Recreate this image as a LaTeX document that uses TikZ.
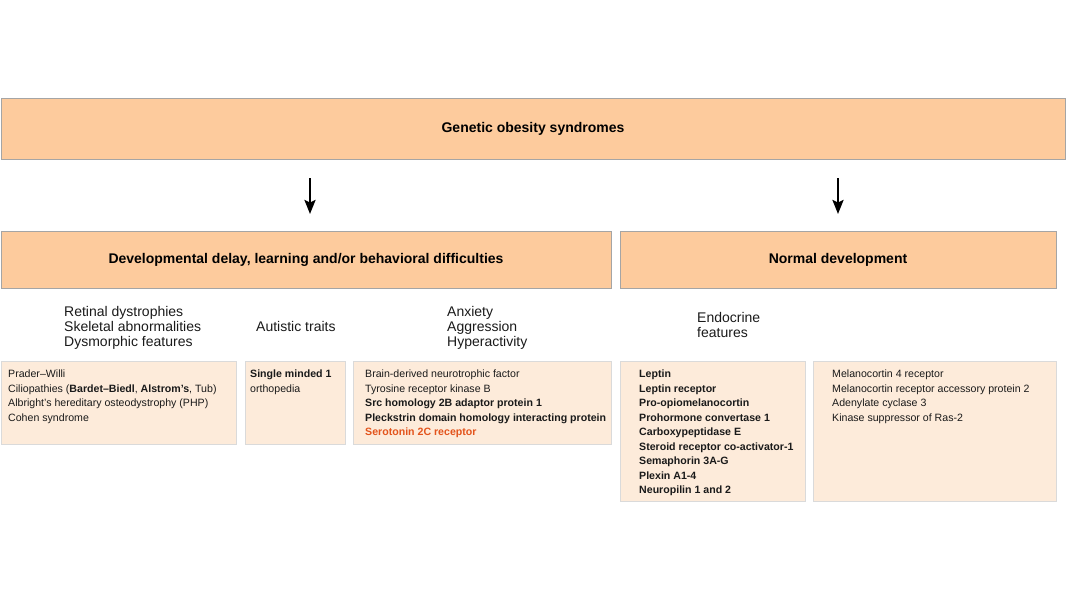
\documentclass[tikz,border=0pt]{standalone}
\usepackage{fontspec}
\setmainfont{Liberation Sans}
\usetikzlibrary{arrows.meta}
\definecolor{peach}{HTML}{FDCB9D}
\definecolor{lightpeach}{HTML}{FDEBDA}
\definecolor{boxline}{HTML}{A5A5A5}
\definecolor{lightline}{HTML}{DADADA}
\definecolor{redorange}{HTML}{E3541C}
\definecolor{txt}{HTML}{1A1A1A}
\tikzset{
	headbox/.style={draw=boxline, fill=peach, line width=0.9pt, inner sep=0pt, text=black, font=\fontsize{14}{16}\selectfont\bfseries},
	listbox/.style={draw=lightline, fill=lightpeach, line width=1pt, anchor=north west, inner sep=0pt},
	listtxt/.style={anchor=base west, align=left, inner sep=0pt, text=txt, font=\fontsize{10.6}{14.5}\selectfont},
	traittxt/.style={anchor=base west, align=left, inner sep=0pt, text=txt, font=\fontsize{14}{15}\selectfont},
	downarrow/.style={line width=2.3pt, -{Stealth[length=14pt,width=11pt,inset=2.5pt]}}
}

\begin{document}
\begin{tikzpicture}[x=1pt,y=-1pt]
			\useasboundingbox (0,0) rectangle (1066,600);
			% header boxes
			\node[headbox, minimum width=1064pt, minimum height=61pt] (genetic) at (533,128.5) {Genetic obesity syndromes};
			\node[headbox, minimum width=610pt, minimum height=57pt] (delay) at (306,259.5) {Developmental delay, learning and/or behavioral difficulties};
			\node[headbox, minimum width=436pt, minimum height=57pt] (normal) at (838,259.5) {Normal development};
			\coordinate (delayfrom) at (310,178);
			\coordinate (delayto) at (310,214);
			\coordinate (normalfrom) at (838,178);
			\coordinate (normalto) at (838,214);
			\draw[downarrow] (delayfrom) -- (delayto);
			\draw[downarrow] (normalfrom) -- (normalto);
			% clinical features (placed at the baseline of the last line)
			\node[traittxt] (retinal) at (64,346) {Retinal dystrophies\\Skeletal abnormalities\\Dysmorphic features};
			\node[traittxt] (autistic) at (256,331) {Autistic traits};
			\node[traittxt] (anxiety) at (447,346) {Anxiety\\Aggression\\Hyperactivity};
			\node[traittxt] (endocrine) at (697,337) {Endocrine\\features};
			% gene boxes
			\node[listbox, minimum width=235pt, minimum height=83pt] (syndromes) at (1,361) {};
			\node[listbox, minimum width=100pt, minimum height=83pt] (sim) at (245,361) {};
			\node[listbox, minimum width=258pt, minimum height=83pt] (bdnf) at (353,361) {};
			\node[listbox, minimum width=185pt, minimum height=140pt] (leptin) at (620,361) {};
			\node[listbox, minimum width=243pt, minimum height=140pt] (mcr) at (813,361) {};
			\node[listtxt] (syndromelist) at (8,421) {Prader–Willi\\Ciliopathies (\textbf{Bardet–Biedl}, \textbf{Alstrom’s}, Tub)\\Albright’s hereditary osteodystrophy (PHP)\\Cohen syndrome};
			\node[listtxt] (simlist) at (250,392) {\textbf{Single minded 1}\\orthopedia};
			\node[listtxt] (bdnflist) at (365,435.5) {Brain-derived neurotrophic factor\\Tyrosine receptor kinase B\\\textbf{Src homology 2B adaptor protein 1}\\\textbf{Pleckstrin domain homology interacting protein}\\\textcolor{redorange}{\textbf{Serotonin 2C receptor}}};
			\node[listtxt, font=\fontsize{10.6}{14.5}\selectfont\bfseries] (leptinlist) at (639,493.5) {Leptin\\Leptin receptor\\Pro-opiomelanocortin\\Prohormone convertase 1\\Carboxypeptidase E\\Steroid receptor co-activator-1\\Semaphorin 3A-G\\Plexin A1-4\\Neuropilin 1 and 2};
			\node[listtxt] (mcrlist) at (832,421) {Melanocortin 4 receptor\\Melanocortin receptor accessory protein 2\\Adenylate cyclase 3\\Kinase suppressor of Ras-2};
		\end{tikzpicture}
\end{document}
